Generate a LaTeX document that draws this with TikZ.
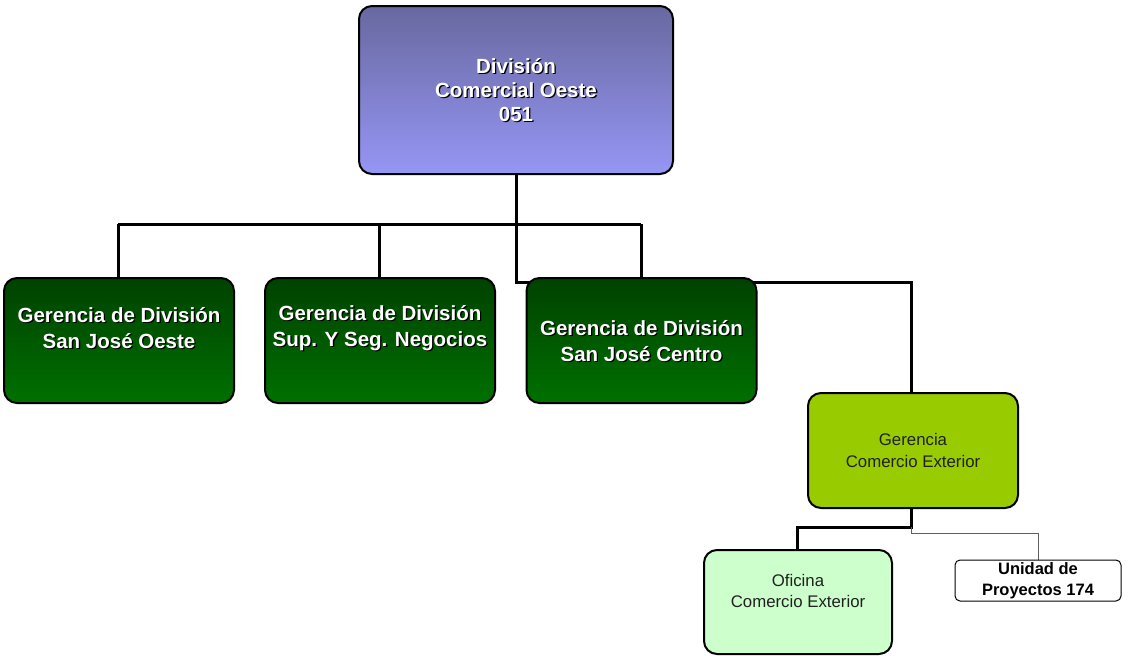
\documentclass[tikz,border=0pt]{standalone}
\usepackage{fontspec}
\setmainfont{Liberation Sans}
\definecolor{violetTop}{RGB}{104,104,160}
\definecolor{violetBot}{RGB}{150,150,245}
\definecolor{greenTop}{RGB}{0,66,0}
\definecolor{greenBot}{RGB}{0,112,0}
\definecolor{limeFill}{RGB}{153,204,0}
\definecolor{mintFill}{RGB}{204,255,204}
\definecolor{inkDark}{RGB}{32,32,32}
\definecolor{thinLine}{RGB}{96,96,96}
% white caption with a dark drop shadow: name, position, text, style
\newcommand\shadowcaption[4]{%
  \node[#4, text=black] (#1-shadow) at ([shift={(1.3,1.3)}]#2) {#3};
  \node[#4] (#1) at (#2) {#3};}
\begin{document}
\begin{tikzpicture}[x=1pt,y=-1pt,
  unitbox/.style={draw=black, line width=2pt, rounded corners=13pt, inner sep=0pt},
  divbox/.style={unitbox, top color=violetTop, bottom color=violetBot,
    minimum width=314pt, minimum height=168pt},
  mgrbox/.style={unitbox, top color=greenTop, bottom color=greenBot,
    minimum width=230pt, minimum height=125pt},
  cebox/.style={unitbox, fill=limeFill, minimum width=210pt, minimum height=115pt},
  ofbox/.style={unitbox, fill=mintFill, minimum width=188pt, minimum height=104pt},
  smallbox/.style={draw=black, line width=1pt, rounded corners=5pt, fill=white,
    minimum width=166pt, minimum height=41pt, inner sep=0pt},
  bigcap/.style={font=\fontsize{20.5}{24}\selectfont\bfseries, align=center, text=white},
  mgrcap/.style={font=\fontsize{20.5}{26}\selectfont\bfseries, align=center, text=white},
  plaincap/.style={font=\fontsize{16.8}{21.5}\selectfont, align=center, text=inkDark},
  smallcap/.style={font=\fontsize{16.5}{21}\selectfont\bfseries, align=center, text=black},
  thick link/.style={draw=black, line width=3pt},
  thin link/.style={draw=thinLine, line width=1pt}
]
\fill[white] (0,0) rectangle (1128,656);
\useasboundingbox (0,0) rectangle (1128,656);

% box centres
\coordinate (pDiv) at (516,90);
\coordinate (pG1) at (119,340.5);
\coordinate (pG2) at (380,340.5);
\coordinate (pG3) at (641.5,340.5);
\coordinate (pCE) at (913,450.5);
\coordinate (pOF) at (798,602);
\coordinate (pUP) at (1038,580.5);

% connectors, drawn first so the boxes cover their ends
\coordinate (bus) at (516,224);
\coordinate (busL) at (118,224);
\coordinate (busR) at (641,224);
\coordinate (jog) at (516,282);
\coordinate (jogR) at (911,282);
\coordinate (ceDrop) at (911,527);
\coordinate (ceThin) at (911,533);
\draw[thick link] (516,174) -- (jog) -- (jogR) -- (911,393);
\draw[thick link] (busL) -- (busR);
\draw[thick link] (busL) -- (118,278);
\draw[thick link] (379,224) -- (379,278);
\draw[thick link] (busR) -- (641,278);
\draw[thick link] (911,508) -- (ceDrop) -| (797,550);
\draw[thin link] (ceDrop) -- (ceThin) -| (1038,560);

% boxes
\node[divbox] (div) at (pDiv) {};
\node[mgrbox] (g1) at (pG1) {};
\node[mgrbox] (g2) at (pG2) {};
\node[mgrbox] (g3) at (pG3) {};
\node[cebox] (ce) at (pCE) {};
\node[ofbox] (of) at (pOF) {};
\node[smallbox] (up) at (pUP) {};

% captions
\shadowcaption{divT}{div.center}{División\\Comercial Oeste\\051}{bigcap}
\shadowcaption{g1T}{119,328}{Gerencia de División\\San José Oeste}{mgrcap}
\shadowcaption{g2T}{380,328}{Gerencia de División\\Sup. Y Seg. Negocios}{mgrcap}
\shadowcaption{g3T}{641.5,341}{Gerencia de División\\San José Centro}{mgrcap}
\node[plaincap] (ceT) at (913,450.5) {Gerencia\\Comercio Exterior};
\node[plaincap] (ofT) at (798,591) {Oficina\\Comercio Exterior};
\node[smallcap] (upT) at (1038,580.5) {Unidad de\\Proyectos 174};
\end{tikzpicture}
\end{document}
